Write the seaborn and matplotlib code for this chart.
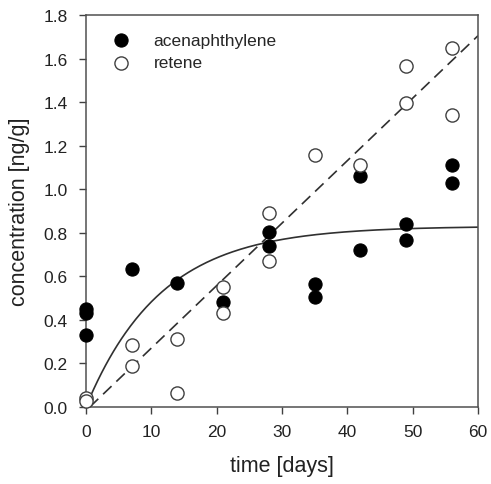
import numpy as np
import pandas as pd
import matplotlib
matplotlib.use("Agg")
import matplotlib.pyplot as plt
import seaborn as sns

# ---- data ----
ace_days = [0, 0, 0, 7, 14, 21, 28, 28, 35, 35, 42, 42, 49, 49, 56, 56]
ace_conc = [0.45, 0.43, 0.33, 0.635, 0.57, 0.48, 0.805, 0.74, 0.565, 0.505,
            1.06, 0.72, 0.84, 0.765, 1.11, 1.03]

ret_days = [0, 0, 7, 7, 14, 14, 21, 21, 28, 28, 35, 42, 49, 49, 56, 56]
ret_conc = [0.04, 0.025, 0.285, 0.19, 0.31, 0.065, 0.55, 0.43, 0.89, 0.67,
            1.155, 1.11, 1.565, 1.395, 1.65, 1.34]

# fitted model parameters (as drawn in the reference)
ace_plateau = 0.83      # first-order uptake: C = a * (1 - exp(-k t))
ace_rate = 0.087
ret_slope = 0.0287      # linear uptake: C = m * (t - t0)
ret_t0 = 0.6

x_ticks = [0, 10, 20, 30, 40, 50, 60]
y_ticks = [0.0, 0.2, 0.4, 0.6, 0.8, 1.0, 1.2, 1.4, 1.6, 1.8]
labels = ["acenaphthylene", "retene"]

# ---- figure ----
sns.set_style("ticks")
plt.rcParams["font.family"] = ["Liberation Sans", "DejaVu Sans"]

fig = plt.figure(figsize=(4.91, 4.85), dpi=100)
ax = fig.add_axes([0.175, 0.159, 0.7985, 0.808])

t_fit = np.linspace(0, 60, 300)
fit_df = pd.DataFrame({
    "t": t_fit,
    "ace": ace_plateau * (1 - np.exp(-ace_rate * t_fit)),
})
t_lin = np.linspace(ret_t0, 60, 50)
lin_df = pd.DataFrame({"t": t_lin, "ret": ret_slope * (t_lin - ret_t0)})

sns.lineplot(data=fit_df, x="t", y="ace", ax=ax, color="#303030", lw=1.2,
             legend=False)
sns.lineplot(data=lin_df, x="t", y="ret", ax=ax, color="#303030", lw=1.2,
             legend=False, dashes=False)
ax.lines[-1].set_dashes((7, 4))

ace_df = pd.DataFrame({"t": ace_days, "c": ace_conc})
ret_df = pd.DataFrame({"t": ret_days, "c": ret_conc})
sns.scatterplot(data=ace_df, x="t", y="c", ax=ax, s=90, color="black",
                edgecolor="black", linewidth=0.8, label=labels[0],
                clip_on=False, zorder=5)
sns.scatterplot(data=ret_df, x="t", y="c", ax=ax, s=90, facecolor="white",
                edgecolor="#404040", linewidth=1.0, label=labels[1],
                clip_on=False, zorder=5)

ax.set_xlim(0, 60)
ax.set_ylim(0, 1.8)
ax.set_xticks(x_ticks)
ax.set_yticks(y_ticks)
ax.set_yticklabels([f"{v:.1f}" for v in y_ticks])
ax.tick_params(direction="out", length=5, width=1, colors="#404040",
               labelsize=12.5, labelcolor="#222222")
ax.tick_params(axis="x", pad=7)
ax.tick_params(axis="y", pad=8)
for s in ax.spines.values():
    s.set_visible(True)
    s.set_color("#505050")
    s.set_linewidth(1.1)

ax.set_xlabel("time [days]", fontsize=15.5, color="#222222", labelpad=12)
ax.set_ylabel("concentration [ng/g]", fontsize=15.5, color="#222222",
              labelpad=10)

leg = ax.legend(loc="upper left", frameon=False, fontsize=12.5,
                handletextpad=0.9, borderaxespad=0.6, labelspacing=0.45,
                bbox_to_anchor=(0.0, 1.0))

fig.savefig("out.png", dpi=100)
